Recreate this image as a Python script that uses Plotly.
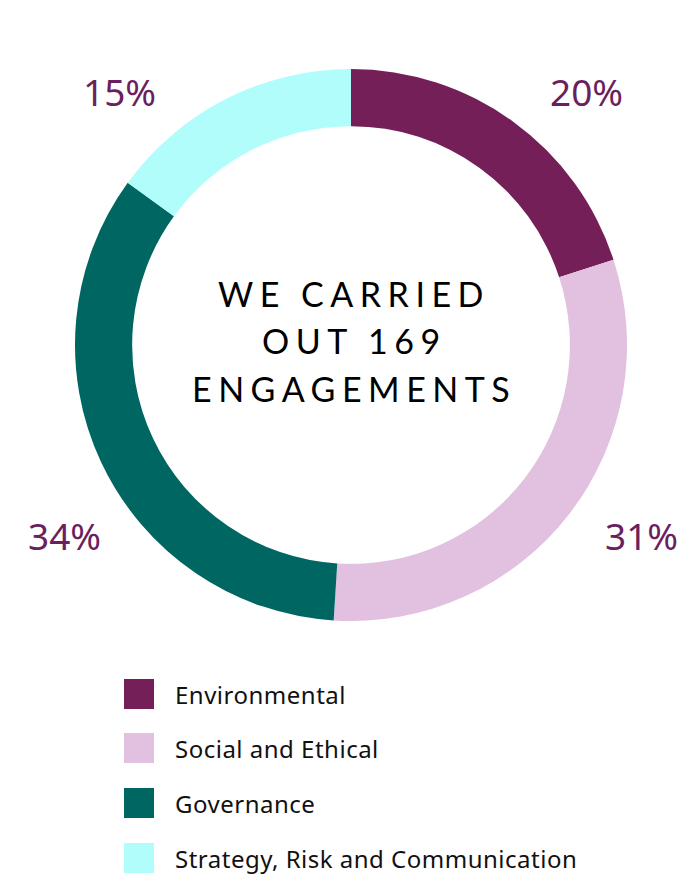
import plotly.graph_objects as go

# Engagement split by theme
categories = ["Environmental", "Social and Ethical", "Governance", "Strategy, Risk and Communication"]
shares = [20, 31, 34, 15]
colors = ["#741f57", "#e2c1e0", "#006662", "#b0fdfc"]
label_text = ["20%", "31%", "34%", "15%"]
center_lines = ["WE CARRIED", "OUT 169", "ENGAGEMENTS"]

W, H = 683, 877
cx, cy, r = 351, 345, 276

def px(x):
    return x / W

def py(y):
    return 1 - y / H

fig = go.Figure()
fig.add_trace(go.Pie(
    labels=categories,
    values=shares,
    marker=dict(colors=colors, line=dict(width=0)),
    hole=0.793,
    sort=False,
    direction="clockwise",
    rotation=0,
    textinfo="none",
    hoverinfo="label+percent",
    showlegend=False,
    domain=dict(x=[px(cx - r), px(cx + r)], y=[py(cy + r), py(cy - r)]),
))

# Percentage labels around the ring
label_pos = [(586, 91), (641, 535), (64, 535), (119, 91)]
annotations = []
for t, (lx, ly) in zip(label_text, label_pos):
    annotations.append(dict(
        x=px(lx), y=py(ly), xref="paper", yref="paper", text=t, showarrow=False,
        xanchor="center", yanchor="middle",
        font=dict(family="Noto Sans", size=37, color="#6b1f5e"),
    ))

# Centre caption, one annotation per line for tighter control of spacing
center_y = [293, 340, 388]
for s, yy in zip(center_lines, center_y):
    annotations.append(dict(
        x=px(cx + 3), y=py(yy), xref="paper", yref="paper",
        text=f'<span style="letter-spacing:6.5px">{s}</span>',
        showarrow=False, xanchor="center", yanchor="middle", align="center",
        font=dict(family="Lato", size=34, color="#000000"),
    ))

# Legend drawn as squares with captions
shapes = []
row_y = [694, 748, 803, 858]
for name, col, yy in zip(categories, colors, row_y):
    shapes.append(dict(
        type="rect", xref="paper", yref="paper",
        x0=px(124), x1=px(154), y0=py(yy + 15), y1=py(yy - 15),
        fillcolor=col, line=dict(width=0),
    ))
    annotations.append(dict(
        x=px(173), y=py(yy), xref="paper", yref="paper",
        text=f'<span style="letter-spacing:0.5px">{name}</span>', showarrow=False,
        xanchor="left", yanchor="middle",
        font=dict(family="Noto Sans", size=24, color="#111111"),
    ))

fig.update_layout(
    width=W, height=H,
    margin=dict(l=0, r=0, t=0, b=0),
    paper_bgcolor="white", plot_bgcolor="white",
    annotations=annotations, shapes=shapes,
)

fig.write_html("out.html")
